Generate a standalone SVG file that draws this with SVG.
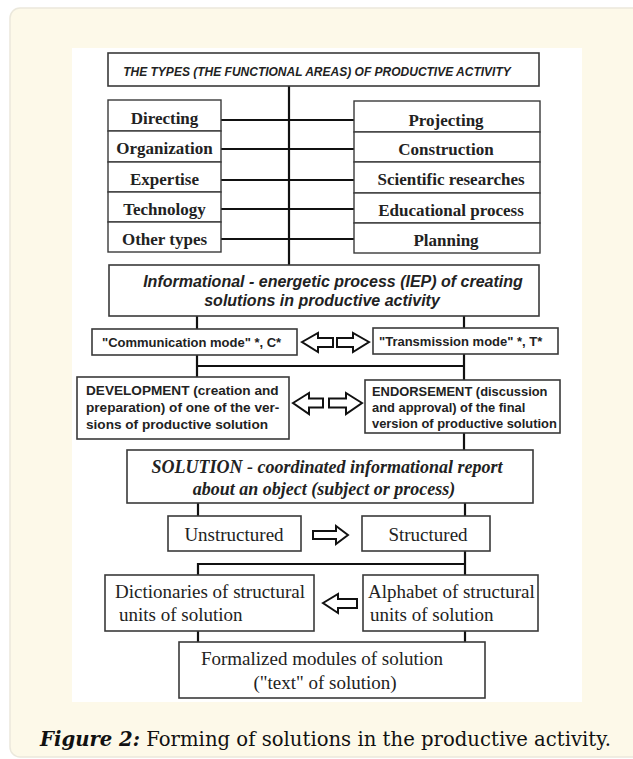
<svg xmlns="http://www.w3.org/2000/svg" width="633" height="759" viewBox="0 0 633 759">
  <style>
    .box { fill: #ffffff; stroke: #3a3a3a; stroke-width: 1.6; }
    .cell { fill: #ffffff; stroke: #3a3a3a; stroke-width: 1.4; }
    .wire { stroke: #111111; stroke-width: 2.2; fill: none; }
    .blk { fill: #ffffff; stroke: #111111; stroke-width: 2; stroke-linejoin: miter; }
    .sbi { font-family: "Liberation Sans", Arial, sans-serif; font-weight: bold; font-style: italic; fill: #222; }
    .sb { font-family: "Liberation Sans", Arial, sans-serif; font-weight: bold; fill: #222; }
    .tb { font-family: "Liberation Serif", "Times New Roman", serif; font-weight: bold; font-size: 17px; fill: #222; text-anchor: middle; }
    .tbi { font-family: "Liberation Serif", "Times New Roman", serif; font-weight: bold; font-style: italic; font-size: 18px; fill: #222; text-anchor: middle; }
    .tr { font-family: "Liberation Serif", "Times New Roman", serif; font-size: 19px; fill: #222; }
    .cap { font-family: "DejaVu Serif", "Liberation Serif", serif; font-size: 20px; fill: #111; }
  </style>

  <!-- page card and figure panel -->
  <rect x="0" y="0" width="633" height="759" fill="#ffffff"/>
  <rect x="10" y="8" width="640" height="749" rx="10" fill="#fdf9e9" stroke="#ebe8dc" stroke-width="1.5"/>
  <rect x="72" y="48" width="510" height="654" fill="#ffffff"/>

  <!-- connectors -->
  <g id="connectors">
    <line class="wire" x1="289" y1="86" x2="289" y2="265"/>
    <line class="wire" x1="221" y1="120" x2="354" y2="120"/>
    <line class="wire" x1="221" y1="149" x2="354" y2="149"/>
    <line class="wire" x1="221" y1="180" x2="354" y2="180"/>
    <line class="wire" x1="221" y1="209" x2="354" y2="209"/>
    <line class="wire" x1="221" y1="239" x2="354" y2="239"/>

    <line class="wire" x1="197" y1="316" x2="197" y2="329"/>
    <line class="wire" x1="464" y1="316" x2="464" y2="328"/>
    <line class="wire" x1="197" y1="355" x2="197" y2="377"/>
    <line class="wire" x1="464" y1="354" x2="464" y2="380"/>
    <line class="wire" x1="197" y1="366" x2="464" y2="366"/>
    <line class="wire" x1="464" y1="433" x2="464" y2="450"/>

    <line class="wire" x1="198" y1="503" x2="198" y2="516"/>
    <line class="wire" x1="465" y1="503" x2="465" y2="516"/>
    <line class="wire" x1="465" y1="551" x2="465" y2="575"/>
    <polyline class="wire" points="198,575 198,564 465,564"/>
    <line class="wire" x1="198" y1="631" x2="198" y2="642"/>
    <line class="wire" x1="465" y1="631" x2="465" y2="642"/>

    <!-- hollow block arrows -->
    <polygon class="blk" points="302,342 318,333 318,338 333,338 333,347 318,347 318,352"/>
    <polygon class="blk" points="369,342 353,333 353,338 337,338 337,347 353,347 353,352"/>
    <polygon class="blk" points="293,403 309,393 309,398.5 323,398.5 323,407.5 309,407.5 309,414"/>
    <polygon class="blk" points="362,403 346,393 346,398.5 329,398.5 329,407.5 346,407.5 346,414"/>
    <polygon class="blk" points="348,535 336,526 336,531 313,531 313,539 336,539 336,544"/>
    <polygon class="blk" points="323,603 338,594 338,599 357,599 357,608 338,608 338,613"/>
  </g>

  <g id="types-title">
    <rect class="box" x="108" y="53" width="431" height="33"/>
    <text class="sbi" x="317" y="76" font-size="12" text-anchor="middle">THE TYPES (THE FUNCTIONAL AREAS) OF PRODUCTIVE ACTIVITY</text>
  </g>

  <g id="directing"><rect class="cell" x="108" y="100" width="113" height="31"/><text class="tb" x="164.5" y="124">Directing</text></g>
  <g id="organization"><rect class="cell" x="108" y="131" width="113" height="31"/><text class="tb" x="164.5" y="154">Organization</text></g>
  <g id="expertise"><rect class="cell" x="108" y="162" width="113" height="30"/><text class="tb" x="164.5" y="185">Expertise</text></g>
  <g id="technology"><rect class="cell" x="108" y="192" width="113" height="30"/><text class="tb" x="164.5" y="215">Technology</text></g>
  <g id="other-types"><rect class="cell" x="108" y="222" width="113" height="30"/><text class="tb" x="164.5" y="245">Other types</text></g>

  <g id="projecting"><rect class="cell" x="354" y="101" width="186" height="31"/><text class="tb" x="446" y="126">Projecting</text></g>
  <g id="construction"><rect class="cell" x="354" y="132" width="186" height="30"/><text class="tb" x="446" y="155">Construction</text></g>
  <g id="scientific-researches"><rect class="cell" x="354" y="162" width="186" height="31"/><text class="tb" x="451" y="185">Scientific researches</text></g>
  <g id="educational-process"><rect class="cell" x="354" y="193" width="186" height="30"/><text class="tb" x="451" y="216">Educational process</text></g>
  <g id="planning"><rect class="cell" x="354" y="223" width="186" height="30"/><text class="tb" x="446" y="246">Planning</text></g>

  <g id="iep">
    <rect class="box" x="109" y="265" width="430" height="51"/>
    <text class="sbi" font-size="16" text-anchor="middle"><tspan x="333" y="287">Informational - energetic process (IEP) of creating</tspan><tspan x="322" y="306">solutions in productive activity</tspan></text>
  </g>

  <g id="communication-mode">
    <rect class="box" x="92" y="329" width="205" height="26"/>
    <text class="sb" x="102" y="347" font-size="13">"Communication mode" *, C*</text>
  </g>
  <g id="transmission-mode">
    <rect class="box" x="373" y="328" width="185" height="26"/>
    <text class="sb" x="379" y="346" font-size="13">"Transmission mode" *, T*</text>
  </g>

  <g id="development">
    <rect class="box" x="77" y="377" width="212" height="62"/>
    <text class="sb" font-size="13.6"><tspan x="86" y="395">DEVELOPMENT (creation and</tspan><tspan x="86" y="412">preparation) of one of the ver-</tspan><tspan x="86" y="429">sions of productive solution</tspan></text>
  </g>
  <g id="endorsement">
    <rect class="box" x="365" y="380" width="195" height="53"/>
    <text class="sb" font-size="12.9"><tspan x="372" y="396">ENDORSEMENT (discussion</tspan><tspan x="372" y="412">and approval) of the final</tspan><tspan x="372" y="428">version of productive solution</tspan></text>
  </g>

  <g id="solution">
    <rect class="box" x="127" y="450" width="406" height="53"/>
    <text class="tbi"><tspan x="327" y="473">SOLUTION - coordinated informational report</tspan><tspan x="324" y="495">about an object (subject or process)</tspan></text>
  </g>

  <g id="unstructured">
    <rect class="box" x="168" y="516" width="133" height="35"/>
    <text class="tr" x="234" y="541" text-anchor="middle">Unstructured</text>
  </g>
  <g id="structured">
    <rect class="box" x="362" y="516" width="128" height="35"/>
    <text class="tr" x="428" y="541" text-anchor="middle">Structured</text>
  </g>

  <g id="dictionaries">
    <rect class="box" x="105" y="575" width="209" height="56"/>
    <text class="tr"><tspan x="115" y="598">Dictionaries of structural</tspan><tspan x="119" y="621">units of solution</tspan></text>
  </g>
  <g id="alphabet">
    <rect class="box" x="363" y="575" width="175" height="56"/>
    <text class="tr"><tspan x="368" y="598">Alphabet of structural</tspan><tspan x="370" y="621">units of solution</tspan></text>
  </g>

  <g id="formalized-modules">
    <rect class="box" x="179" y="642" width="306" height="56"/>
    <text class="tr" text-anchor="middle"><tspan x="322" y="665">Formalized modules of solution</tspan><tspan x="325" y="689">("text" of solution)</tspan></text>
  </g>

  <text class="cap" x="40" y="746" textLength="571" lengthAdjust="spacingAndGlyphs"><tspan font-weight="bold" font-style="italic">Figure 2:</tspan> Forming of solutions in the productive activity.</text>
</svg>
